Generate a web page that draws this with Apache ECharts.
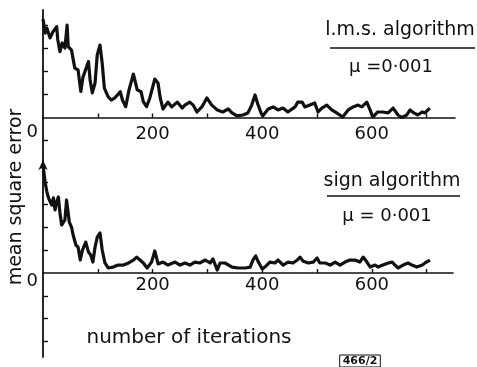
<!DOCTYPE html>
<html style="height: 100%">
    <head>
        <meta charset="utf-8">
    </head>
    <body style="height: 100%; margin: 0; background: #fff">
        <div id="container" style="width: 477px; height: 367px"></div>

        <script type="text/javascript" src="https://cdn.jsdelivr.net/npm/echarts@6/dist/echarts.min.js"></script>

        <script type="text/javascript">
// values, y in "tick" units above the zero line
var lmsIter = [0, 4, 7, 13, 18, 25, 27, 31, 35, 40, 44, 46, 52, 58, 64, 69, 73, 83, 86, 90,
  95, 99, 104, 108, 112, 119, 125, 131, 141, 145, 151, 157, 165, 172, 179, 183, 189, 195, 204, 210,
  214, 219, 228, 235, 245, 254, 259, 268, 274, 281, 290, 299, 308, 318, 328, 338, 345, 354, 365, 374,
  381, 387, 392, 398, 401, 411, 420, 429, 438, 447, 460, 465, 473, 478, 487, 496, 502, 509, 518, 527,
  536, 547, 557, 566, 575, 582, 591, 597, 602, 611, 620, 630, 639, 648, 655, 664, 670, 677, 684, 692,
  697, 706];
var lmsMse = [4.28, 3.67, 3.89, 3.46, 3.72, 3.95, 3.37, 2.86, 3.24, 3.02, 4.02, 3.08, 2.93, 2.15, 2.07, 1.13, 1.76, 2.43, 1.63, 1.07,
  1.50, 2.72, 3.15, 2.37, 1.28, 0.90, 0.76, 0.85, 1.12, 0.76, 0.47, 1.20, 1.89, 1.20, 1.12, 0.69, 0.47, 0.85, 1.67, 1.49,
  0.85, 0.37, 0.67, 0.46, 0.67, 0.41, 0.54, 0.67, 0.54, 0.24, 0.46, 0.85, 0.54, 0.33, 0.24, 0.37, 0.20, 0.07, 0.11, 0.20,
  0.54, 0.98, 0.59, 0.20, 0.07, 0.37, 0.46, 0.33, 0.41, 0.24, 0.46, 0.67, 0.67, 0.46, 0.54, 0.63, 0.24, 0.41, 0.54, 0.33,
  0.20, 0.02, 0.33, 0.46, 0.54, 0.46, 0.67, 0.33, 0.02, 0.24, 0.24, 0.20, 0.41, 0.11, 0.00, 0.11, 0.33, 0.20, 0.11, 0.24,
  0.20, 0.41];

var signIter = [0, 4, 7, 10, 13, 16, 19, 22, 25, 28, 31, 34, 40, 43, 48, 52, 55, 60, 64, 68,
  72, 78, 83, 87, 91, 95, 99, 104, 108, 113, 119, 128, 137, 147, 156, 165, 171, 177, 183, 190,
  198, 204, 210, 219, 228, 241, 250, 259, 268, 277, 286, 296, 305, 310, 318, 323, 332, 345, 356, 369,
  378, 383, 388, 392, 400, 407, 414, 423, 429, 438, 447, 456, 464, 469, 474, 484, 493, 500, 505, 515,
  524, 533, 542, 551, 560, 569, 578, 584, 591, 597, 606, 611, 620, 630, 637, 642, 648, 657, 666, 673,
  682, 692, 697, 706];
var signMse = [4.75, 3.96, 3.58, 3.30, 3.34, 2.99, 3.30, 2.77, 3.12, 3.34, 2.64, 2.11, 2.33, 3.21, 2.24, 2.02, 1.67, 1.23, 1.14, 0.57,
  1.01, 1.36, 0.92, 0.79, 0.48, 1.14, 1.58, 1.76, 1.01, 0.44, 0.22, 0.26, 0.35, 0.35, 0.44, 0.57, 0.70, 0.57, 0.44, 0.22,
  0.48, 0.97, 0.40, 0.48, 0.35, 0.48, 0.35, 0.44, 0.35, 0.48, 0.44, 0.57, 0.44, 0.62, 0.13, 0.44, 0.44, 0.26, 0.22, 0.22,
  0.26, 0.57, 0.75, 0.53, 0.18, 0.31, 0.48, 0.44, 0.57, 0.35, 0.48, 0.44, 0.57, 0.70, 0.53, 0.44, 0.48, 0.66, 0.44, 0.44,
  0.35, 0.48, 0.35, 0.48, 0.57, 0.57, 0.48, 0.70, 0.48, 0.26, 0.35, 0.26, 0.35, 0.44, 0.48, 0.35, 0.22, 0.35, 0.44, 0.35,
  0.26, 0.35, 0.44, 0.57];

var xTicks = [100, 200, 300, 400, 500, 600, 700];
var xLabels = [200, 400, 600];
var upperTicks = [1, 2, 3, 4];
var lmsLowTicks = [-1];
var signLowTicks = [-3, -2, -1];

var ink = '#111';
var font = 'DejaVu Sans';

function pairs(xs, ys) {
  return xs.map(function (x, i) { return [x, ys[i]]; });
}

// visible iteration axis along the zero line of each panel
function xAxisFor(idx, max, margin) {
  return {
    type: 'value', gridIndex: idx, min: 0, max: max,
    axisLine: { show: true, onZero: false, lineStyle: { color: ink, width: 1.6 } },
    axisTick: { show: true, inside: true, length: 4, customValues: xTicks, lineStyle: { color: ink, width: 1.4 } },
    axisLabel: { customValues: xLabels, margin: margin, fontSize: 18, fontFamily: font, color: ink },
    splitLine: { show: false }
  };
}

// hidden x axis for the below-zero strips
function hiddenX(idx, max) {
  return { type: 'value', gridIndex: idx, min: 0, max: max, show: false };
}

function yAxisFor(idx, min, max, ticks, arrow) {
  return {
    type: 'value', gridIndex: idx, min: min, max: max,
    axisLine: { show: true, onZero: false, symbol: arrow ? ['none', 'arrow'] : 'none', symbolSize: [7, 10],
      lineStyle: { color: ink, width: 1.8 } },
    axisTick: { show: true, inside: true, length: 5, customValues: ticks, lineStyle: { color: ink, width: 1.4 } },
    axisLabel: { show: false },
    splitLine: { show: false }
  };
}

// lower strip carries the "0" label, hung below the zero line
function yLowFor(idx, min, ticks, drop) {
  var ax = yAxisFor(idx, min, 0, ticks, false);
  ax.axisLabel = { show: true, customValues: [0], margin: 5, verticalAlign: 'top', lineHeight: drop,
    fontSize: 18, fontFamily: font, color: ink };
  return ax;
}

var myChart = echarts.init(document.getElementById('container'));

var option = {
  backgroundColor: '#fff',
  animation: false,
  grid: [
    { left: 43, top: 10, width: 412, height: 107.5 },
    { left: 43, top: 117.5, width: 412, height: 45.5 },
    { left: 43, top: 160, width: 410, height: 113 },
    { left: 43, top: 273, width: 410, height: 84 }
  ],
  xAxis: [xAxisFor(0, 752, 8), hiddenX(1, 752), xAxisFor(2, 748, 3), hiddenX(3, 748)],
  yAxis: [
    yAxisFor(0, 0, 4.674, upperTicks, false),
    yLowFor(1, -1.978, lmsLowTicks, 29),
    yAxisFor(2, 0, 4.967, upperTicks, true),
    yLowFor(3, -3.692, signLowTicks, 16)
  ],
  series: [
    {
      name: 'l.m.s. algorithm', type: 'line', xAxisIndex: 0, yAxisIndex: 0,
      data: pairs(lmsIter, lmsMse), symbol: 'none', clip: false,
      lineStyle: { color: ink, width: 3.2, join: 'round' }
    },
    {
      name: 'sign algorithm', type: 'line', xAxisIndex: 2, yAxisIndex: 2,
      data: pairs(signIter, signMse), symbol: 'none', clip: false,
      lineStyle: { color: ink, width: 3.2, join: 'round' }
    }
  ],
  graphic: [
    { type: 'text', x: 400, y: 30, style: { text: 'l.m.s. algorithm', font: '19px ' + font, fill: ink, align: 'center', verticalAlign: 'middle' } },
    { type: 'line', shape: { x1: 330, y1: 48, x2: 475, y2: 48 }, style: { stroke: ink, lineWidth: 1.6 } },
    { type: 'text', x: 391, y: 67, style: { text: 'μ =0·001', font: '18px ' + font, fill: ink, align: 'center', verticalAlign: 'middle' } },
    { type: 'text', x: 392, y: 181, style: { text: 'sign algorithm', font: '19px ' + font, fill: ink, align: 'center', verticalAlign: 'middle' } },
    { type: 'line', shape: { x1: 327, y1: 196, x2: 460, y2: 196 }, style: { stroke: ink, lineWidth: 1.6 } },
    { type: 'text', x: 387, y: 216, style: { text: 'μ = 0·001', font: '18px ' + font, fill: ink, align: 'center', verticalAlign: 'middle' } },
    { type: 'text', x: 189, y: 338, style: { text: 'number of iterations', font: '20px ' + font, fill: ink, align: 'center', verticalAlign: 'middle' } },
    { type: 'text', x: 16, y: 197, rotation: Math.PI / 2, style: { text: 'mean square error', font: '19px ' + font, fill: ink, align: 'center', verticalAlign: 'middle' } },
    { type: 'text', x: 360, y: 361, style: { text: '466/2', font: 'bold 11px ' + font, fill: ink, align: 'center', verticalAlign: 'middle',
      borderColor: ink, borderWidth: 1, padding: [1, 3, 0, 3] } }
  ]
};

myChart.setOption(option);
        </script>
    </body>
</html>
